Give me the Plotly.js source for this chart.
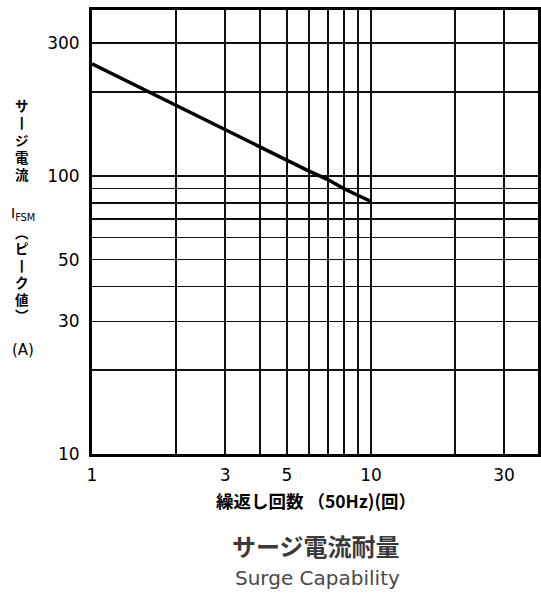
<!DOCTYPE html>
<html>
<head>
<meta charset="utf-8">
<script src="https://cdn.plot.ly/plotly-3.0.1.min.js"></script>
<style>html,body{margin:0;padding:0;background:#fff;}#chart{width:541px;height:594px;}</style>
</head>
<body>
<div id="chart"></div>
<script>
// Data
const cycles = [1, 2, 3, 4, 5, 6, 7, 8, 9, 10];
const surgeCurrent = [253, 179, 147, 127, 114, 104, 97, 90, 85, 81];

const xTickVals = [1, 2, 3, 4, 5, 6, 7, 8, 9, 10, 20, 30];
const xTickText = ["1", "", "3", "", "5", "", "", "", "", "10", "", "30"];
const yTickVals = [10, 20, 30, 40, 50, 60, 70, 80, 90, 100, 200, 300];
const yTickText = ["10", "", "30", "", "50", "", "", "", "", "100", "", "300"];

const xTitle = "繰返し回数 （50Hz)(回）";
const titleJa = "サージ電流耐量";
const titleEn = "Surge Capability";
const yLabel1 = ["サ", "丨", "ジ", "電", "流"];
const yLabelSym = "I<sub>FSM</sub>";
const yLabel2 = ["︵", "ピ", "丨", "ク", "値", "︶"];
const yUnit = "(A)";

const W = 541, H = 594;
const m = {l: 92, r: 3, t: 10, b: 140};
const ph = H - m.t - m.b;
const pw = W - m.l - m.r;
const py = p => (H - m.b - p) / ph;   // pixel y -> paper y
const px = p => (p - m.l) / pw;       // pixel x -> paper x

const tickFont = {family: "DejaVu Sans, sans-serif", size: 17, color: "#000"};
const cjk = "Noto Sans CJK JP, sans-serif";

const trace = {
  x: cycles, y: surgeCurrent, type: "scatter", mode: "lines",
  line: {color: "#000", width: 3.5}, hoverinfo: "skip", showlegend: false
};

const base = {xref: "paper", yref: "paper", showarrow: false, xanchor: "center", yanchor: "middle"};
const annotations = [
  {text: "<b>" + xTitle + "</b>", x: px(316), y: py(500), font: {family: cjk, size: 17.5, color: "#000"}},
  {text: "<b>" + titleJa + "</b>", x: px(316), y: py(545), font: {family: cjk, size: 24, color: "#3a3a3a"}},
  {text: titleEn, x: px(317), y: py(578), font: {family: "DejaVu Sans, sans-serif", size: 20, color: "#4a4a4a"}},
  {text: yLabelSym, x: px(23), y: py(214), font: {family: "DejaVu Sans, sans-serif", size: 14, color: "#000"}},
  {text: yUnit, x: px(23), y: py(350), font: {family: "DejaVu Sans, sans-serif", size: 15, color: "#000"}}
].map(a => Object.assign({}, base, a));

// vertical label characters, one per annotation
const ys1 = [105, 122, 140, 157, 174];
const ys2 = [232, 248, 265, 282, 299, 315];
yLabel1.forEach((c, i) => annotations.push(Object.assign({}, base,
  {text: "<b>" + c + "</b>", x: px(22), y: py(ys1[i]), font: {family: cjk, size: 13.5, color: "#000"}})));
yLabel2.forEach((c, i) => annotations.push(Object.assign({}, base,
  {text: "<b>" + c + "</b>", x: px(22), y: py(ys2[i]), font: {family: cjk, size: 13.5, color: "#000"}})));

const layout = {
  width: W, height: H,
  margin: m,
  paper_bgcolor: "#fff", plot_bgcolor: "#fff",
  showlegend: false,
  xaxis: {
    type: "log", range: [0, Math.log10(39.7)],
    tickmode: "array", tickvals: xTickVals, ticktext: xTickText,
    showgrid: true, gridcolor: "#111", gridwidth: 1.6,
    showline: true, linecolor: "#000", linewidth: 3, mirror: true,
    ticks: "outside", ticklen: 4, tickcolor: "rgba(0,0,0,0)",
    tickfont: tickFont, zeroline: false, fixedrange: true
  },
  yaxis: {
    type: "log", range: [1, Math.log10(395)],
    tickmode: "array", tickvals: yTickVals, ticktext: yTickText,
    showgrid: true, gridcolor: "#111", gridwidth: 1.6,
    showline: true, linecolor: "#000", linewidth: 3, mirror: true,
    ticks: "outside", ticklen: 6, tickcolor: "rgba(0,0,0,0)",
    tickfont: tickFont, zeroline: false, fixedrange: true
  },
  annotations: annotations
};

Plotly.newPlot("chart", [trace], layout, {staticPlot: true, displayModeBar: false});
</script>
</body>
</html>
